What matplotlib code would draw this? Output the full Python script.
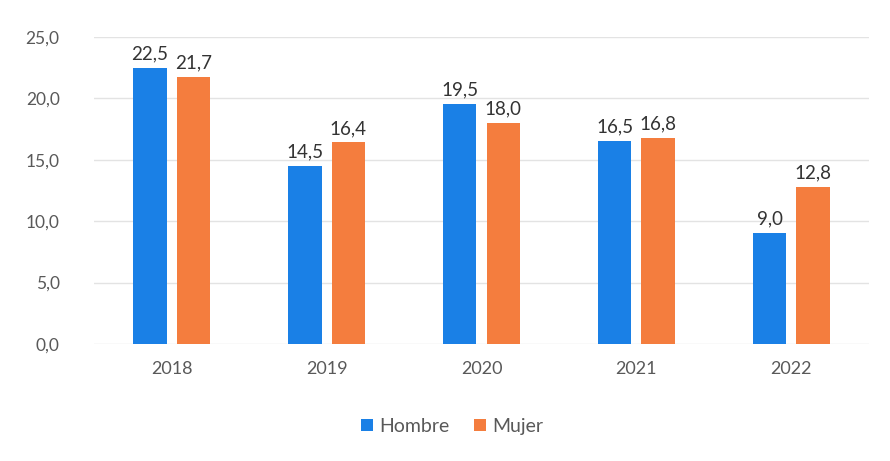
import matplotlib
matplotlib.use("Agg")
import matplotlib.pyplot as plt
import numpy as np

years = ["2018", "2019", "2020", "2021", "2022"]
hombre = [22.5, 14.5, 19.5, 16.5, 9.0]
mujer = [21.7, 16.4, 18.0, 16.8, 12.8]
yticks = [0, 5, 10, 15, 20, 25]

plt.rcParams['font.family'] = ['Lato', 'DejaVu Sans']

fig = plt.figure(figsize=(8.9, 4.61), dpi=100)
ax = fig.add_axes([0.106, 0.254, 0.87, 0.666])

x = np.arange(len(years))
w = 0.215
gap = 0.065
blue = "#1a80e6"
orange = "#f47d3e"
b1 = ax.bar(x - (w + gap) / 2, hombre, w, color=blue, label="Hombre", zorder=3)
b2 = ax.bar(x + (w + gap) / 2, mujer, w, color=orange, label="Mujer", zorder=3)

def fmt(v):
    return f"{v:.1f}".replace(".", ",")

for bars, vals in ((b1, hombre), (b2, mujer)):
    for r, v in zip(bars, vals):
        ax.annotate(fmt(v), (r.get_x() + r.get_width() / 2, v), xytext=(0, 4),
                    textcoords="offset points", ha="center", va="bottom",
                    fontsize=13.5, color="#333333")

ax.set_xlim(-0.5, len(years) - 0.5)
ax.set_ylim(0, 25)
ax.set_yticks(yticks)
ax.set_yticklabels([fmt(t) for t in yticks], fontsize=12.5, color="#595959")
ax.set_xticks(x)
ax.set_xticklabels(years, fontsize=13, color="#595959")
ax.tick_params(length=0, pad=12)
ax.tick_params(axis='y', pad=25)
ax.grid(axis='y', color="#e3e3e3", linewidth=1, zorder=0)
for s in ax.spines.values():
    s.set_visible(False)

fig.legend(handles=[b1, b2], labels=["Hombre", "Mujer"], loc="center",
           bbox_to_anchor=(0.508, 0.075), ncol=2, frameon=False, fontsize=14,
           handlelength=0.6, handleheight=0.6, handletextpad=0.3, columnspacing=1.3,
           labelcolor="#595959")

fig.savefig("out.png", dpi=100)
